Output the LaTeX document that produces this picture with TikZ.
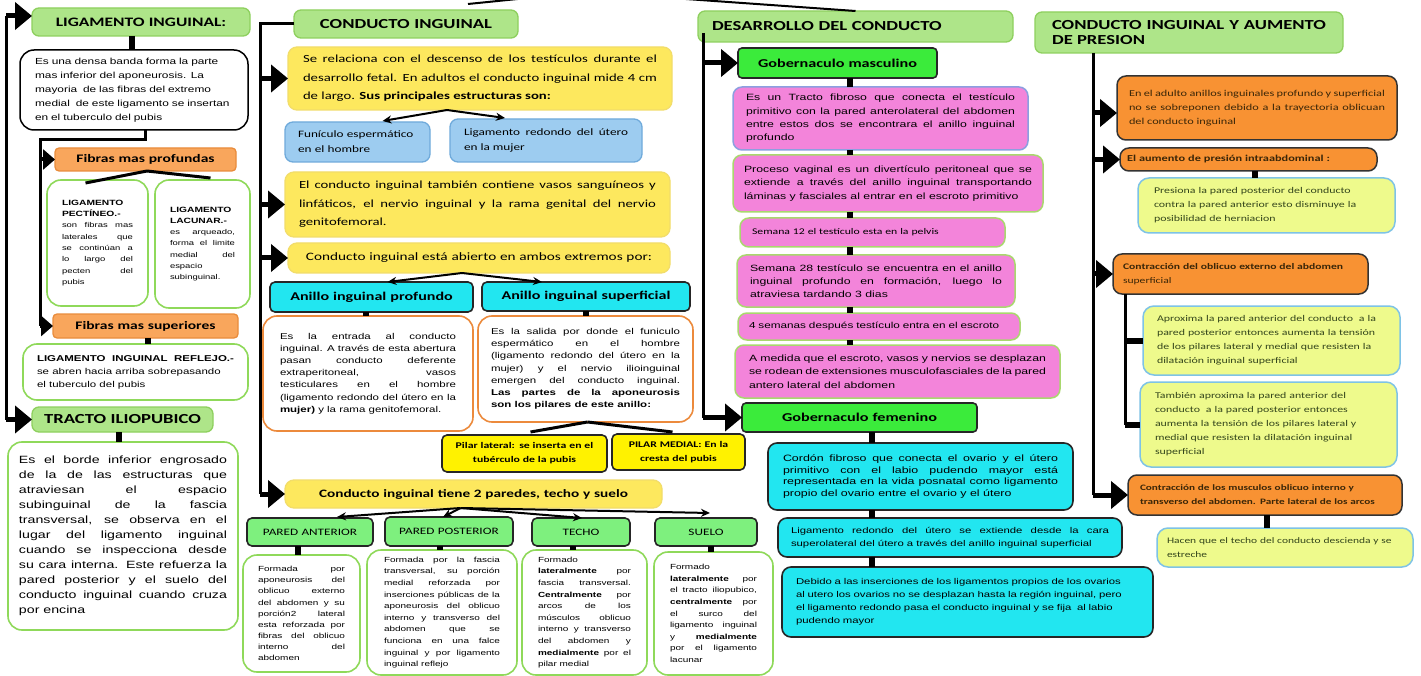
\documentclass[tikz,border=0pt]{standalone}
\usepackage{fontspec}
\setmainfont{Liberation Sans}[FakeStretch=1.35]
\newfontfamily\calib{Carlito}[FakeStretch=1.35]
\usetikzlibrary{arrows.meta,calc}
\newcommand\fsz[2]{\fontsize{#1}{#2}\selectfont}
\newcommand{\boxat}[8]{%
  \pgfmathsetmacro\bxw{#5-#3}%
  \pgfmathsetmacro\bxh{#6-#4}%
  \pgfmathsetmacro\bxt{#5-#3-2*#7}%
  \node[#2, minimum width=\bxw pt, minimum height=\bxh pt, text width=\bxt pt, inner xsep=#7 pt] (#1) at ({(#3+#5)/2},{(#4+#6)/2}) {#8};}
\hyphenpenalty=10000 \exhyphenpenalty=10000 \tolerance=9000
\definecolor{tgreen}{HTML}{AEE589}
\definecolor{tgreenb}{HTML}{8ED05E}
\definecolor{orgF}{HTML}{F9A65C}
\definecolor{orgFb}{HTML}{E98C3C}
\definecolor{ylw}{HTML}{FDE85E}
\definecolor{ylwb}{HTML}{F2DD6A}
\definecolor{bluF}{HTML}{9DCCF0}
\definecolor{bluB}{HTML}{6FAADB}
\definecolor{cyanF}{HTML}{22E6F0}
\definecolor{pinkF}{HTML}{F384DA}
\definecolor{pinkB}{HTML}{A9D86E}
\definecolor{pinkBb}{HTML}{8C9FE0}
\definecolor{bgreen}{HTML}{3BEB3B}
\definecolor{pgreen}{HTML}{7EF07E}
\definecolor{pyel}{HTML}{FFF200}
\definecolor{ygF}{HTML}{EEFA8C}
\definecolor{ygB}{HTML}{7EC3E6}
\definecolor{orR}{HTML}{F89233}
\definecolor{lgB}{HTML}{8FD95A}
\definecolor{oB}{HTML}{EC8A3C}
\definecolor{brn}{HTML}{3A2608}
\definecolor{olv}{HTML}{34461C}
\begin{document}
\begin{tikzpicture}[x=1pt,y=-1pt,
 bx/.style={rounded corners=7pt, line width=1.3pt, inner ysep=0pt, outer sep=0pt},
 ttl/.style={bx, fill=tgreen, draw=tgreenb, font=\calib\bfseries\fsz{13.8}{15.5}},
 wbx/.style={bx, rounded corners=14pt, fill=white, draw=black, line width=1.5pt, font=\fsz{8.8}{14}, align=left},
 fib/.style={bx, rounded corners=4pt, fill=orgF, draw=orgFb, font=\calib\bfseries\fsz{11.5}{13}, align=center},
 gbx/.style={bx, rounded corners=14pt, fill=white, draw=lgB, line width=1.6pt, align=justify},
 ylb/.style={bx, rounded corners=9pt, fill=ylw, draw=ylwb, font=\calib\fsz{10.9}{18.5}, align=justify},
 blb/.style={bx, rounded corners=8pt, fill=bluF, draw=bluB, font=\calib\fsz{9.8}{15}, align=left},
 cyh/.style={bx, rounded corners=5pt, fill=cyanF, draw=black!85, line width=1.6pt, font=\calib\bfseries\fsz{11.9}{14}, align=center},
 obx/.style={bx, rounded corners=14pt, fill=white, draw=oB, line width=1.6pt, font=\fsz{8.5}{12.2}, align=justify},
 pil/.style={bx, rounded corners=5pt, fill=pyel, draw=black!85, line width=1.6pt, font=\calib\bfseries\fsz{8.7}{14}, align=center},
 pared/.style={bx, rounded corners=5pt, fill=pgreen, draw=black!85, line width=1.6pt, font=\calib\fsz{9.8}{12}, align=center},
 pnk/.style={bx, rounded corners=9pt, fill=pinkF, draw=pinkB, line width=1.5pt, font=\fsz{9.1}{13.3}, align=justify},
 gob/.style={bx, rounded corners=4pt, fill=bgreen, draw=black!85, line width=1.6pt, font=\calib\bfseries\fsz{12}{14}, align=center},
 cyt/.style={bx, rounded corners=9pt, fill=cyanF, draw=black!85, line width=1.6pt, font=\fsz{9.2}{11.7}, align=justify},
 orx/.style={bx, rounded corners=9pt, fill=orR, draw=black!80, line width=1.5pt, font=\calib\fsz{9.1}{14}, text=brn, align=justify},
 ygx/.style={bx, rounded corners=11pt, fill=ygF, draw=ygB, line width=1.5pt, font=\calib\fsz{8.8}{14}, text=olv, align=left},
 trunk/.style={line width=3pt},
 bigarrow/.style={line width=5pt, -{Triangle[length=17pt,width=27pt]}},
 midarrow/.style={line width=4pt, -{Triangle[length=12pt,width=20pt]}},
 stub/.style={line width=6pt},
 thn/.style={line width=2pt},
 thnarrow/.style={line width=2pt, -{Stealth[length=9pt,width=8pt]}},
]
\useasboundingbox (0,0) rectangle (1421,676);
\fill[white] (0,0) rectangle (1421,676);

% ---------------- left column
\boxat{liga}{ttl,align=center,font=\calib\bfseries\fsz{12.9}{15}}{32}{8}{250}{36}{6}{LIGAMENTO INGUINAL:}
\boxat{wbox}{wbx}{20}{50}{248}{130}{15}{Es una densa banda forma la parte\\mas inferior del aponeurosis. La\\mayoria\ \ de las fibras del extremo\\medial\ \ de este ligamento se insertan\\en el tuberculo del pubis}
\boxat{fibP}{fib}{55}{148}{236}{171}{4}{Fibras mas profundas}
\boxat{pect}{gbx,font=\fsz{7}{11.3}}{47}{180}{148}{306}{15}{{\fsz{7.6}{11.3}\bfseries LIGAMENTO\\PECTÍNEO.-}\\son fibras mas\linebreak laterales que\linebreak se continúan a\linebreak lo largo del\linebreak pecten del\linebreak pubis}
\boxat{lacu}{gbx,font=\fsz{7}{11.3}}{155}{180}{250}{308}{15}{{\fsz{7.6}{11.3}\bfseries LIGAMENTO\\LACUNAR.-}\\es arqueado,\linebreak forma el limite\linebreak medial del\linebreak espacio\\subinguinal.}
\boxat{fibS}{fib}{53}{314}{238}{338}{4}{Fibras mas superiores}
\boxat{refl}{gbx,font=\fsz{8.5}{13}}{23}{344}{248}{400}{14}{\textbf{LIGAMENTO INGUINAL REFLEJO.-}\linebreak se abren hacia arriba sobrepasando\\el tuberculo del pubis}
\boxat{tracto}{ttl,align=center}{32}{407}{213}{432}{6}{TRACTO ILIOPUBICO}
\boxat{trt}{gbx,font=\fsz{10.5}{15}}{8}{442}{238}{630}{11}{Es el borde inferior engrosado\linebreak de la de las estructuras que\linebreak atraviesan el espacio\linebreak subinguinal de la fascia\linebreak transversal, se observa en el\linebreak lugar del ligamento inguinal\linebreak cuando se inspecciona desde\linebreak su cara interna. Este refuerza la\linebreak pared posterior y el suelo del\linebreak conducto inguinal cuando cruza\linebreak por encina}

% ---------------- middle column
\boxat{conducto}{ttl,align=center}{294}{10}{518}{38}{6}{CONDUCTO INGUINAL}
\boxat{y1}{ylb}{288}{47}{672}{110}{15}{Se relaciona con el descenso de los testículos durante el\linebreak desarrollo fetal. En adultos el conducto inguinal mide 4 cm\linebreak de largo. \textbf{Sus principales estructuras son:}}
\boxat{blue1}{blb}{285}{122}{430}{162}{13}{Funículo espermático\\en el hombre}
\boxat{blue2}{blb,align=justify}{450}{119}{642}{162}{14}{Ligamento redondo del útero\linebreak en la mujer}
\boxat{y2}{ylb}{285}{172}{670}{237}{14}{El conducto inguinal también contiene vasos sanguíneos y\linebreak linfáticos, el nervio inguinal y la rama genital del nervio\linebreak genitofemoral.}
\boxat{y3}{ylb,align=center,font=\calib\fsz{11.3}{14}}{288}{243}{670}{273}{8}{Conducto inguinal está abierto en ambos extremos por:}
\boxat{cy1}{cyh}{270}{282}{473}{312}{6}{Anillo inguinal profundo}
\boxat{cy2}{cyh}{482}{282}{690}{311}{6}{Anillo inguinal superficial}
\boxat{ob1}{obx}{263}{316}{473}{431}{17}{Es la entrada al conducto\linebreak inguinal. A través de esta abertura\linebreak pasan conducto deferente\linebreak extraperitoneal, vasos\linebreak testiculares en el hombre\linebreak (ligamento redondo del útero en la\linebreak \textbf{mujer)} y la rama genitofemoral.}
\boxat{ob2}{obx}{478}{316}{693}{422}{13}{Es la salida por donde el funiculo\linebreak espermático en el hombre\linebreak (ligamento redondo del útero en la\linebreak mujer) y el nervio ilioinguinal\linebreak emergen del conducto inguinal.\linebreak \textbf{Las partes de la aponeurosis}\linebreak \textbf{son los pilares de este anillo:}}
\boxat{pil1}{pil}{442}{435}{607}{472}{4}{Pilar lateral: se inserta en el\\tubérculo de la pubis}
\boxat{pil2}{pil}{612}{434}{745}{470}{4}{PILAR MEDIAL: En la\\cresta del pubis}
\boxat{y4}{ylb,align=center,font=\calib\bfseries\fsz{11.3}{14}}{285}{480}{662}{508}{6}{Conducto inguinal tiene 2 paredes, techo y suelo}
\boxat{pa}{pared}{247}{518}{373}{546}{4}{PARED ANTERIOR}
\boxat{pp}{pared}{385}{517}{513}{546}{4}{PARED POSTERIOR}
\boxat{te}{pared}{532}{518}{630}{546}{4}{TECHO}
\boxat{su}{pared}{655}{518}{757}{546}{4}{SUELO}
\boxat{pat}{gbx,font=\fsz{7.4}{11.1}}{243}{555}{360}{672}{15}{Formada por\linebreak aponeurosis del\linebreak oblicuo externo\linebreak del abdomen y su\linebreak porción2 lateral\linebreak esta reforzada por\linebreak fibras del oblicuo\linebreak interno del\linebreak abdomen}
\boxat{ppt}{gbx,font=\fsz{7.4}{11.6}}{367}{550}{517}{675}{17}{Formada por la fascia\linebreak transversal, su porción\linebreak medial reforzada por\linebreak inserciones públicas de la\linebreak aponeurosis del oblicuo\linebreak interno y transverso del\linebreak abdomen que se\linebreak funciona en una falce\linebreak inguinal y por ligamento\linebreak inguinal reflejo}
\boxat{tet}{gbx,font=\fsz{7.4}{11.6}}{522}{550}{647}{675}{16}{Formado\\\textbf{lateralmente} por\linebreak fascia transversal.\linebreak \textbf{Centralmente} por\linebreak arcos de los\linebreak músculos oblicuo\linebreak interno y transverso\linebreak del abdomen y\linebreak \textbf{medialmente} por el\linebreak pilar medial}
\boxat{sut}{gbx,font=\fsz{7.4}{11.6}}{654}{552}{773}{675}{16}{Formado\\\textbf{lateralmente} por\linebreak el tracto iliopubico,\linebreak \textbf{centralmente} por\linebreak el surco del\linebreak ligamento inguinal\linebreak y \textbf{medialmente}\linebreak por el ligamento\linebreak lacunar}

% ---------------- desarrollo column
\boxat{des}{ttl,align=left}{698}{11}{1013}{42}{14}{DESARROLLO DEL CONDUCTO}
\boxat{gm}{gob}{738}{48}{937}{78}{4}{Gobernaculo masculino}
\boxat{p1}{pnk,draw=pinkBb}{733}{87}{1028}{150}{13}{Es un Tracto fibroso que conecta el testículo\linebreak primitivo con la pared anterolateral del abdomen\linebreak entre estos dos se encontrara el anillo inguinal\linebreak profundo}
\boxat{p2}{pnk}{733}{155}{1043}{212}{11}{Proceso vaginal es un divertículo peritoneal que se\linebreak extiende a través del anillo inguinal transportando\linebreak láminas y fasciales al entrar en el escroto primitivo}
\boxat{p3}{pnk,font=\calib\fsz{8.7}{12},align=left}{740}{218}{1005}{247}{12}{Semana 12 el testículo esta en la pelvis}
\boxat{p4}{pnk}{737}{255}{1015}{307}{13}{Semana 28 testículo se encuentra en el anillo\linebreak inguinal profundo en formación, luego lo\linebreak atraviesa tardando 3 dias}
\boxat{p5}{pnk,align=left,font=\fsz{8.7}{12}}{738}{313}{1020}{340}{11}{4 semanas después testículo entra en el escroto}
\boxat{p6}{pnk}{735}{345}{1060}{398}{14}{A medida que el escroto, vasos y nervios se desplazan\linebreak se rodean de extensiones musculofasciales de la pared\linebreak antero lateral del abdomen}
\boxat{gf}{gob}{742}{403}{977}{432}{4}{Gobernaculo femenino}
\boxat{c1}{cyt}{768}{443}{1073}{510}{15}{Cordón fibroso que conecta el ovario y el útero\linebreak primitivo con el labio pudendo mayor está\linebreak representada en la vida posnatal como ligamento\linebreak propio del ovario entre el ovario y el útero}
\boxat{c2}{cyt,font=\fsz{8.4}{13.3}}{778}{518}{1122}{557}{13}{Ligamento redondo del útero se extiende desde la cara\linebreak superolateral del útero a través del anillo inguinal superficial}
\boxat{c3}{cyt,font=\fsz{8.4}{13},align=left}{782}{567}{1153}{637}{14}{Debido a las inserciones de los ligamentos propios de los ovarios\\al utero los ovarios no se desplazan hasta la región inguinal, pero\\el ligamento redondo pasa el conducto inguinal y se fija\ \ al labio\\pudendo mayor}

% ---------------- right column
\boxat{rt}{ttl,align=justify}{1035}{12}{1343}{53}{17}{CONDUCTO INGUINAL Y AUMENTO\linebreak DE PRESION}
\boxat{o1}{orx}{1117}{76}{1397}{140}{12}{En el adulto anillos inguinales profundo y superficial\linebreak no se sobreponen debido a la trayectoria oblicuan\linebreak del conducto inguinal}
\boxat{o2}{orx,align=left}{1120}{148}{1377}{171}{7}{\textbf{El aumento de presión intraabdominal :}}
\boxat{g1}{ygx}{1138}{178}{1395}{233}{16}{Presiona la pared posterior del conducto\\contra la pared anterior esto disminuye la\\posibilidad de herniacion}
\boxat{o3}{orx,align=left,font=\calib\fsz{8.6}{14}}{1113}{254}{1368}{294}{10}{\textbf{Contracción del oblicuo externo del abdomen}\\superficial}
\boxat{g2}{ygx}{1143}{306}{1400}{375}{14}{Aproxima la pared anterior del conducto\ \ a la\\pared posterior entonces aumenta la tensión\\de los pilares lateral y medial que resisten la\\dilatación inguinal superficial}
\boxat{g3}{ygx}{1140}{382}{1397}{467}{15}{También aproxima la pared anterior del\\conducto\ \ a la pared posterior entonces\\aumenta la tensión de los pilares lateral y\\medial que resisten la dilatación inguinal\\superficial}
\boxat{o4}{orx,align=left,font=\calib\fsz{8.3}{14}}{1128}{475}{1402}{515}{12}{\textbf{Contracción de los musculos oblicuo interno y}\\\textbf{transverso del abdomen. Parte lateral de los arcos}}
\boxat{g4}{ygx,font=\calib\fsz{8.5}{14}}{1157}{528}{1413}{567}{10}{Hacen que el techo del conducto descienda y se\\estreche}

% ================= connectors
\coordinate (root) at (587,-8);
\coordinate (cend) at (468,4);
\draw[thn] (root) -- (cend);
\draw[thn] (root) -- (des.north);

% left
\coordinate (ltop) at (6,16);
\draw[trunk] (ltop) -- (ltop |- tracto.west);
\draw[bigarrow] (ltop) -- (ltop -| liga.west);
\draw[bigarrow] (ltop |- tracto.west) -- (tracto.west);
\draw[stub] ([xshift=-9pt]liga.south) -- ([xshift=-9pt]liga.south |- wbox.north);
\coordinate (lk) at (40,140);
\draw[trunk] ([xshift=11pt]wbox.south) |- (lk) -- (lk |- fibS.west);
\draw[midarrow] (lk |- fibP.west) -- (fibP.west);
\draw[midarrow] (lk |- fibS.west) -- (fibS.west);
\draw[trunk] ([xshift=1.5pt]fibP.south) -- ([xshift=-12pt,yshift=-3pt]pect.north);
\draw[trunk] ([xshift=1.5pt]fibP.south) -- ([xshift=8pt,yshift=2pt]lacu.north);
\draw[stub] ([xshift=2pt]fibS.south) -- ([xshift=2pt]fibS.south |- refl.north);
\draw[stub] ([xshift=-4pt]tracto.south) -- ([xshift=-4pt]tracto.south |- trt.north);

% middle
\coordinate (mtop) at (260,24);
\draw[trunk] (conducto.west) -- (conducto.west -| mtop) -- (mtop |- y4.west);
\foreach \n in {y1,y2,y3,y4} \draw[bigarrow] (mtop |- \n.west) -- (\n.west);
\draw[thnarrow] ([xshift=-33pt]y1.south) -- ([xshift=25pt,yshift=1pt]blue1.north);
\draw[thnarrow] ([xshift=-33pt]y1.south) -- ([xshift=-41pt,yshift=1pt]blue2.north);
\draw[thnarrow] ([xshift=-17pt]y3.south) -- ([xshift=16pt]cy1.north);
\draw[thnarrow] ([xshift=-17pt]y3.south) -- ([xshift=-44pt]cy2.north);
\draw[stub] ([xshift=-6pt]cy1.south) -- ([xshift=-6pt]cy1.south |- ob1.north);
\draw[stub] (cy2.south) -- (cy2.south |- ob2.north);
\draw[trunk] ([xshift=2pt]ob2.south) -- ([xshift=6pt,yshift=3pt]pil1.north);
\draw[trunk] ([xshift=2pt]ob2.south) -- ([xshift=-6pt,yshift=2pt]pil2.north);
\draw[thnarrow] ([xshift=-13pt]y4.south) -- ([xshift=27pt,yshift=1pt]pa.north);
\draw[thnarrow] ([xshift=-13pt]y4.south) -- ([xshift=-6pt]pp.north);
\draw[thnarrow] ([xshift=-13pt]y4.south) -- ([xshift=1pt]te.north);
\draw[thnarrow] ([xshift=-13pt]y4.south) -- ([xshift=4pt,yshift=5pt]su.north);
\draw[stub] ([xshift=-12pt]pa.south) -- ([xshift=-12pt]pa.south |- pat.north);
\draw[stub] ([xshift=-9pt]pp.south) -- ([xshift=-9pt]pp.south |- ppt.north);
\draw[stub] ([xshift=-8pt]te.south) -- ([xshift=-8pt]te.south |- tet.north);
\draw[stub] ([xshift=5pt]su.south) -- ([xshift=5pt]su.south |- sut.north);

% desarrollo
\coordinate (dtop) at (703,33);
\draw[trunk] (dtop) -- (dtop |- gf.west);
\draw[bigarrow] (dtop |- gm.west) -- (gm.west);
\draw[bigarrow] (dtop |- gf.west) -- (gf.west);
\coordinate (px) at (850,0);
\foreach \a/\b in {gm/p1,p1/p2,p2/p3,p3/p4,p4/p5,p5/p6} \draw[stub] (px |- \a.south) -- (px |- \b.north);
\coordinate (cx) at (872,0);
\foreach \a/\b in {gf/c1,c1/c2,c2/c3} \draw[stub] (cx |- \a.south) -- (cx |- \b.north);

% right
\coordinate (rtop) at (1093,53);
\draw[trunk] (rtop) -- (rtop |- o4.west);
\draw[bigarrow] ($(rtop |- o1.west)+(0,5)$) -- ($(o1.west)+(0,5)$);
\draw[bigarrow] (rtop |- o2.west) -- (o2.west);
\draw[bigarrow] (rtop |- o3.west) -- (o3.west);
\draw[bigarrow] (rtop |- o4.west) -- (o4.west);
\draw[stub] ([xshift=6pt]o2.south) -- ([xshift=6pt]o2.south |- g1.north);
\coordinate (sx) at (1125,0);
\draw[trunk] (sx |- o3.south) -- (sx |- g3.west);
\draw[stub] (sx |- g2.west) -- (g2.west);
\draw[stub] (sx |- g3.west) -- (g3.west);
\draw[stub] ([xshift=2pt]o4.south) -- ([xshift=2pt]o4.south |- g4.north);
\end{tikzpicture}
\end{document}
